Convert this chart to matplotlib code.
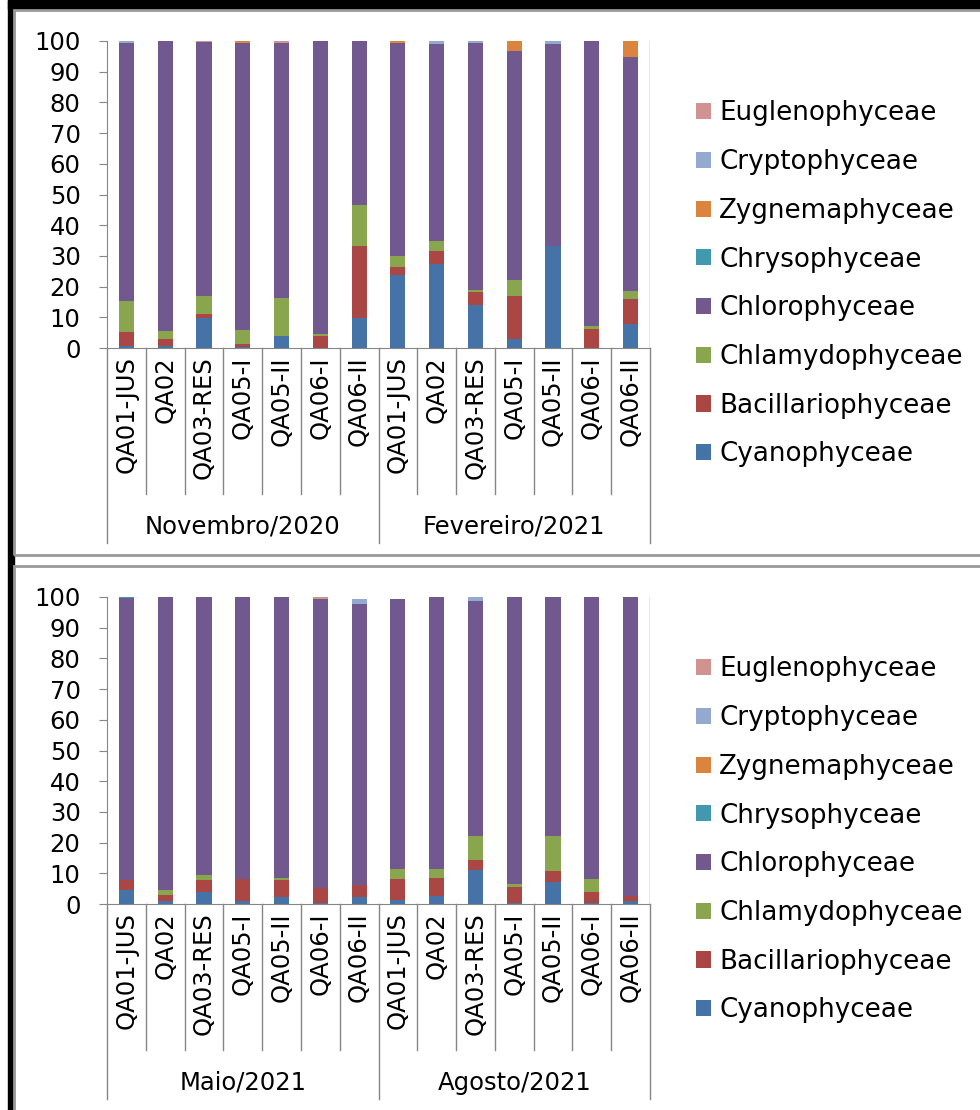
import matplotlib
matplotlib.use("Agg")
import matplotlib.pyplot as plt
from matplotlib.patches import Rectangle
import numpy as np

# sample sites and campaigns
sites = ["QA01-JUS", "QA02", "QA03-RES", "QA05-I", "QA05-II", "QA06-I", "QA06-II"]
campaigns = ["Novembro/2020", "Fevereiro/2021", "Maio/2021", "Agosto/2021"]

# relative abundance (%) per class, 7 sites x 4 campaigns (Nov, Fev, Mai, Ago)
cyanophyceae = [0.5, 0.8, 9.9, 0.4, 3.9, 0.0, 9.9,
                23.7, 27.2, 13.9, 2.8, 33.2, 0.0, 7.9,
                4.7, 0.9, 3.9, 0.9, 2.2, 0.4, 2.2,
                1.3, 2.6, 11.1, 0.2, 7.3, 0.4, 0.9]
bacillariophyceae = [4.6, 2.1, 1.2, 0.9, 0.0, 3.9, 23.3,
                     2.6, 4.3, 4.4, 14.2, 0.0, 6.3, 8.2,
                     3.0, 2.1, 3.8, 7.1, 5.5, 4.7, 4.1,
                     6.7, 5.9, 3.3, 5.3, 3.3, 3.5, 1.7]
chlamydophyceae = [10.2, 2.5, 5.9, 4.7, 12.3, 0.8, 13.5,
                   3.8, 3.3, 0.7, 5.1, 0.0, 0.9, 2.6,
                   0.0, 1.7, 1.6, 0.0, 0.8, 0.0, 0.0,
                   3.5, 3.0, 7.7, 0.9, 11.5, 4.2, 0.0]
chlorophyceae = [84.2, 94.6, 82.7, 93.5, 83.3, 95.3, 53.3,
                 69.4, 64.1, 80.5, 74.7, 65.7, 92.8, 76.0,
                 92.0, 95.3, 90.7, 92.0, 91.5, 94.2, 91.4,
                 87.7, 88.5, 76.5, 93.6, 77.9, 91.9, 97.4]
chrysophyceae = [0, 0, 0, 0, 0, 0, 0,
                 0, 0, 0, 0, 0, 0, 0,
                 0.3, 0, 0, 0, 0, 0, 0,
                 0, 0, 0, 0, 0, 0, 0]
zygnemaphyceae = [0, 0, 0, 0.5, 0, 0, 0,
                  0.5, 0, 0, 3.2, 0, 0, 5.3,
                  0, 0, 0, 0, 0, 0, 0,
                  0, 0, 0, 0, 0, 0, 0]
cryptophyceae = [0.5, 0, 0, 0, 0, 0, 0,
                 0, 1.1, 0.5, 0, 1.1, 0, 0,
                 0, 0, 0, 0, 0, 0, 1.6,
                 0, 0, 1.4, 0, 0, 0, 0]
euglenophyceae = [0, 0, 0.3, 0, 0.5, 0, 0,
                  0, 0, 0, 0, 0, 0, 0,
                  0, 0, 0, 0, 0, 0.7, 0,
                  0, 0, 0, 0, 0, 0, 0]

classes = ["Cyanophyceae", "Bacillariophyceae", "Chlamydophyceae", "Chlorophyceae",
           "Chrysophyceae", "Zygnemaphyceae", "Cryptophyceae", "Euglenophyceae"]
series = [cyanophyceae, bacillariophyceae, chlamydophyceae, chlorophyceae,
          chrysophyceae, zygnemaphyceae, cryptophyceae, euglenophyceae]
colors = ["#4572A7", "#AA4643", "#89A54E", "#71588F",
          "#4198AF", "#DB843D", "#93A9CF", "#D19392"]

W, H = 980, 1110
FS = 17.5
LFS = 18.8
plt.rcParams['font.family'] = ['DejaVu Sans']
fig = plt.figure(figsize=(W / 100, H / 100), dpi=100)


def fx(px):
    return px / W


def fy(py):
    return 1 - py / H


# outer frames
fig.add_artist(Rectangle((fx(8), fy(H)), fx(6), 1, color="black", transform=fig.transFigure))
fig.add_artist(Rectangle((fx(8), fy(9)), 1, 9 / H, color="black", transform=fig.transFigure))
for top, bot in [(10, 555), (566, 1112)]:
    fig.add_artist(Rectangle((fx(14), fy(bot)), fx(970), (bot - top) / H, fill=False,
                             edgecolor="#999999", linewidth=2, transform=fig.transFigure))

axis_col = "#868686"
panels = [(41, 348, 0), (597, 904, 2)]  # y of 100, y of 0, first campaign index
x_left, x_right = 107, 650

for y100, y0, c0 in panels:
    ax = fig.add_axes([fx(x_left), fy(y0), fx(x_right - x_left), (y0 - y100) / H])
    sl = slice(c0 * 7, c0 * 7 + 14)
    x = np.arange(14)
    bottom = np.zeros(14)
    handles = []
    for name, vals, col in zip(classes, series, colors):
        v = np.array(vals[sl], dtype=float)
        b = ax.bar(x, v, 0.39, bottom=bottom, color=col, label=name,
                   edgecolor="none")
        bottom += v
        handles.append(b)

    ax.set_xlim(-0.5, 13.5)
    ax.set_ylim(0, 100)
    ax.set_yticks(range(0, 101, 10))
    ax.tick_params(axis="y", length=6, color=axis_col, labelsize=FS, pad=13)
    for s in ["top", "right"]:
        ax.spines[s].set_visible(False)
    ax.spines["left"].set_color(axis_col)
    ax.spines["bottom"].set_color(axis_col)
    ax.plot([1, 1], [0, 1], transform=ax.transAxes, color=axis_col, lw=1)

    ax.set_xticks(x)
    ax.set_xticklabels(sites * 2, rotation=90, fontsize=FS, va="top")
    ax.tick_params(axis="x", length=0, pad=6)

    hpx = y0 - y100
    trans = ax.get_xaxis_transform()
    for k in range(15):
        depth = 195 if k % 7 == 0 else 146
        ax.plot([k - 0.5, k - 0.5], [0, -depth / hpx], transform=trans,
                color=axis_col, lw=1, clip_on=False)
    for g in range(2):
        ax.text(3 + 7 * g, -179 / hpx, campaigns[c0 + g], transform=trans,
                ha="center", va="center", fontsize=FS)

    fig.legend(handles[::-1], classes[::-1], loc="upper left",
               bbox_to_anchor=(fx(686), fy(y100 + 49)), frameon=False,
               fontsize=LFS, handlelength=0.57, handleheight=0.57,
               handletextpad=0.3, labelspacing=0.87, borderaxespad=0)

fig.savefig("out.png", dpi=100)
